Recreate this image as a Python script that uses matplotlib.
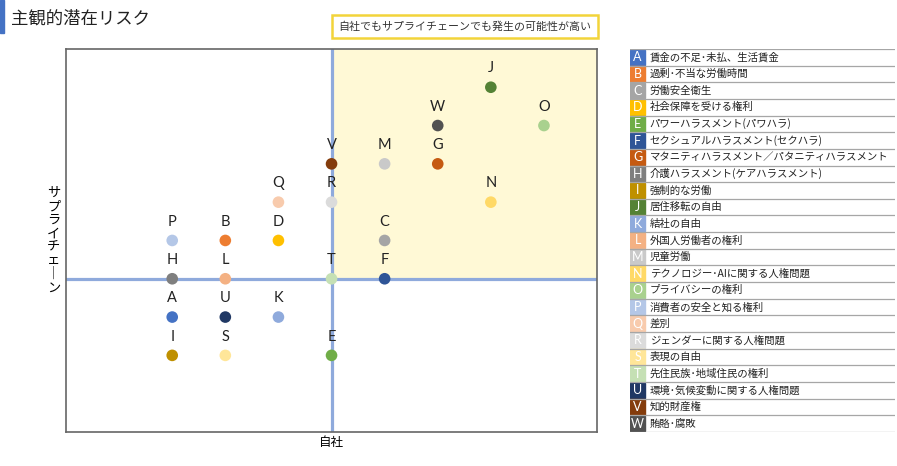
# -*- coding: utf-8 -*-
# 主観的潜在リスク マトリクス
import matplotlib
matplotlib.use('Agg')
import matplotlib.pyplot as plt
from matplotlib.patches import Rectangle

plt.rcParams['font.family'] = ['Noto Sans CJK JP', 'DejaVu Sans']

# 項目
letters = list('ABCDEFGHIJKLMNOPQRSTUVW')
names = ['賃金の不足･未払、生活賃金', '過剰･不当な労働時間', '労働安全衛生', '社会保障を受ける権利',
         'パワーハラスメント(パワハラ)', 'セクシュアルハラスメント(セクハラ)',
         'マタニティハラスメント／パタニティハラスメント', '介護ハラスメント(ケアハラスメント)',
         '強制的な労働', '居住移転の自由', '結社の自由', '外国人労働者の権利', '児童労働',
         'テクノロジー･AIに関する人権問題', 'プライバシーの権利', '消費者の安全と知る権利', '差別',
         'ジェンダーに関する人権問題', '表現の自由', '先住民族･地域住民の権利',
         '環境･気候変動に関する人権問題', '知的財産権', '賄賂･腐敗']
# 自社（横軸）とサプライチェーン（縦軸）の評価
own = [-3, -2, 1, -1, 0, 1, 2, -3, -3, 3, -1, -2, 1, 3, 4, -3, -1, 0, -2, 0, -2, 0, 2]
supply = [-1, 1, 1, 1, -2, 0, 3, 0, -2, 5, -1, 0, 3, 2, 4, 1, 2, 2, -2, 0, -1, 3, 4]
colors = ['#4472C4', '#ED7D31', '#A5A5A5', '#FFC000', '#70AD47', '#2F5597', '#C55A11', '#7F7F7F',
          '#BF9000', '#548235', '#8FAADC', '#F4B183', '#C9C9C9', '#FFD966', '#A9D18E', '#B4C7E7',
          '#F8CBAD', '#DBDBDB', '#FFE699', '#C5E0B4', '#203864', '#843C0C', '#525252']

fig = plt.figure(figsize=(8.97, 4.66), dpi=100)

# タイトル
fig.patches.append(Rectangle((0, 0.93), 0.004, 0.07, transform=fig.transFigure,
                             color='#4472C4', zorder=5))
fig.text(0.012, 0.961, '主観的潜在リスク', fontsize=12.5, va='center', ha='left', color='#222222')

# 注記ボックス
fig.text(0.518, 0.943, '自社でもサプライチェーンでも発生の可能性が高い', fontsize=7.9,
         ha='center', va='center', color='#333333',
         bbox=dict(boxstyle='square,pad=0.6', fc='white', ec='#F2D43A', lw=1.8))

# 散布図
ax = fig.add_axes([0.0736, 0.073, 0.592, 0.822])
ax.set_xlim(-5, 5)
ax.set_ylim(-4, 6)
ax.add_patch(Rectangle((0, 0), 5, 6, color='#FFF9D6', zorder=0))
ax.axvline(0, color='#8FAADC', lw=2.3, zorder=1)
ax.axhline(0, color='#8FAADC', lw=2.3, zorder=1)
ax.scatter(own, supply, s=70, c=colors, zorder=3, linewidths=0)
for l, x, y in zip(letters, own, supply):
    ax.annotate(l, (x, y), xytext=(0, 8.5), textcoords='offset points', ha='center', va='bottom',
                fontsize=10.5, color='#222222', family=['Lato', 'DejaVu Sans'])
ax.set_xticks([])
ax.set_yticks([])
for sp in ax.spines.values():
    sp.set_color('#666666')
    sp.set_linewidth(1.2)
ax.set_xlabel('自社', fontsize=9, labelpad=3)
ax.set_ylabel('サ\nプ\nラ\nイ\nチ\nェ\n｜\nン', rotation=0, fontsize=9.5, linespacing=1.05,
              va='center', ha='center', labelpad=9)

# 凡例
lg = fig.add_axes([0.7023, 0.073, 0.2954, 0.822])
lg.set_xlim(0, 1)
lg.set_ylim(len(letters), 0)
lg.axis('off')
for i, (l, n, c) in enumerate(zip(letters, names, colors)):
    lg.add_patch(Rectangle((0, i + 0.04), 0.058, 0.92, color=c))
    lg.text(0.029, i + 0.5, l, ha='center', va='center', fontsize=9, color='white',
            family=['Lato', 'DejaVu Sans'])
    lg.text(0.075, i + 0.5, n, ha='left', va='center', fontsize=7.5, color='#222222')
    lg.plot([0, 1], [i + 1, i + 1], color='#A6A6A6', lw=0.9)
lg.plot([0, 1], [0, 0], color='#A6A6A6', lw=0.9)

fig.savefig('out.png', dpi=100)
